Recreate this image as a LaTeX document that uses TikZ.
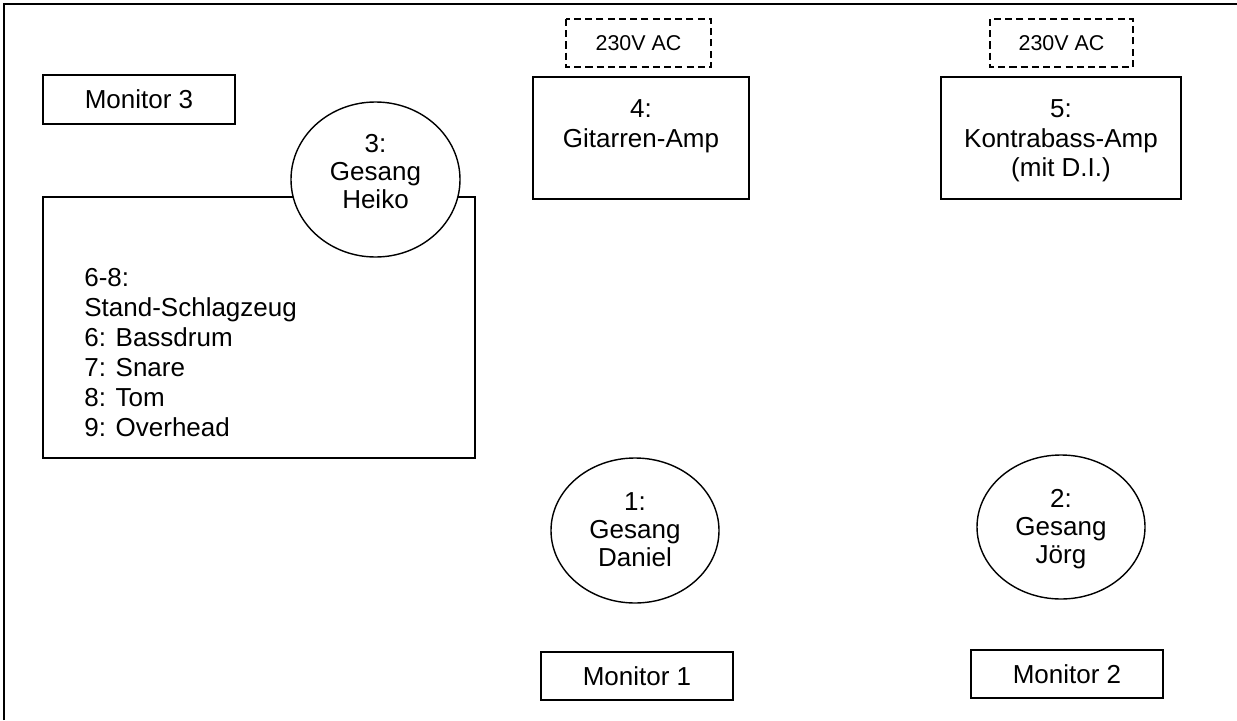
\documentclass[tikz,border=0pt]{standalone}
\usepackage{fontspec}
\setmainfont{Liberation Sans}
\usepackage{tikz}

\begin{document}
\begin{tikzpicture}[x=0.02cm, y=-0.02cm, font=\fontsize{14.8}{17}\selectfont,
    box/.style={line width=1.1pt},
    power/.style={line width=0.8pt, dash pattern=on 4pt off 2.4pt},
    mic/.style={line width=0.8pt, fill=white},
    txt/.style={inner sep=0pt, align=center},
    mictxt/.style={inner sep=0pt, align=center, font=\fontsize{14.8}{16}\selectfont}]
    \useasboundingbox (0,0) rectangle (1237,720);

    % stage frame
    \draw[line width=1.1pt] (4,720) -- (4,4) -- (1237,4);

    % monitors
    \draw[box] (43,75) rectangle (235,124);
    \node[txt] (mon3) at (139,99.5) {Monitor 3};
    \draw[box] (541,652) rectangle (733,700);
    \node[txt] (mon1) at (637,676) {Monitor 1};
    \draw[box] (971,650) rectangle (1163,698);
    \node[txt] (mon2) at (1067,674) {Monitor 2};

    % drums
    \draw[box] (43,197) rectangle (475,458);
    \node[txt, align=left, anchor=west] (drums) at (84,352.5)
        {6-8:\\Stand-Schlagzeug\\6: Bassdrum\\7: Snare\\8: Tom\\9: Overhead};

    % amps and power
    \draw[power] (566,19) rectangle (711,67);
    \node[txt, font=\fontsize{12.2}{14}\selectfont] (ac1) at (638.5,43) {230V AC};
    \draw[box] (533,77) rectangle (749,199);
    \node[txt, anchor=north] (amp4) at (641,99) {4:\\Gitarren-Amp};

    \draw[power] (990,19) rectangle (1133,67);
    \node[txt, font=\fontsize{12.2}{14}\selectfont] (ac2) at (1061.5,43) {230V AC};
    \draw[box] (941,77) rectangle (1181,199);
    \node[txt, anchor=north] (amp5) at (1061,99) {5:\\Kontrabass-Amp\\(mit D.I.)};

    % vocal mics
    \draw[mic] (375.5,179.5) ellipse [x radius=84.5, y radius=77.5];
    \node[mictxt] (voc3) at (375.5,171.5) {3:\\Gesang\\Heiko};
    \draw[mic] (635,530.5) ellipse [x radius=84, y radius=72.5];
    \node[mictxt] (voc1) at (635,530) {1:\\Gesang\\Daniel};
    \draw[mic] (1061,527) ellipse [x radius=84, y radius=72];
    \node[mictxt] (voc2) at (1061,529) {2:\\Gesang\\Jörg};
\end{tikzpicture}
\end{document}
